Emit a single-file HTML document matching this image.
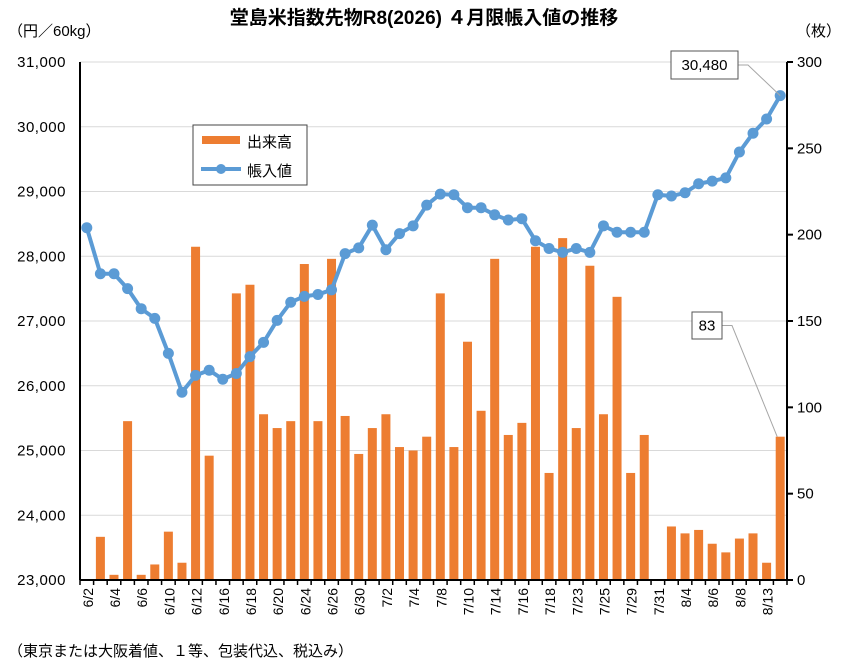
<!DOCTYPE html>
<html><head><meta charset="utf-8"><style>
body{margin:0;background:#fff;}
svg text{font-family:"Liberation Sans","Noto Sans CJK JP",sans-serif;}
</style></head><body>
<svg id="chart" width="848" height="665" viewBox="0 0 848 665" xmlns="http://www.w3.org/2000/svg">
<rect width="848" height="665" fill="#fff"/>
<text x="424" y="24" text-anchor="middle" font-size="19" font-weight="bold">堂島米指数先物R8(2026) ４月限帳入値の推移</text>
<text x="8" y="36" font-size="15">（円／60kg）</text>
<text x="796" y="36" font-size="15">（枚）</text>
<g id="grid"></g><g id="bars"></g><g id="axes"></g><g id="line"></g><g id="labels"></g>
<g>
<rect x="193" y="125" width="114" height="60" fill="#fff" stroke="#444" stroke-width="1"/>
<rect x="202" y="136" width="38" height="8" fill="#ed7d31"/>
<text x="247" y="147" font-size="15">出来高</text>
<line x1="201" y1="169" x2="241" y2="169" stroke="#5b9bd5" stroke-width="4"/>
<circle cx="221" cy="169" r="5" fill="#5b9bd5"/>
<text x="247" y="176" font-size="15">帳入値</text>
</g>
<text x="8" y="656" font-size="15">（東京または大阪着値、１等、包装代込、税込み）</text>
</svg>
<script>
const categories=["6/2","6/3","6/4","6/5","6/6","6/9","6/10","6/11","6/12","6/13","6/16","6/17","6/18","6/19","6/20","6/23","6/24","6/25","6/26","6/27","6/30","7/1","7/2","7/3","7/4","7/7","7/8","7/9","7/10","7/11","7/14","7/15","7/16","7/17","7/18","7/22","7/23","7/24","7/25","7/28","7/29","7/30","7/31","8/1","8/4","8/5","8/6","8/7","8/8","8/12","8/13","8/14"];
const volume=[0,25,3,92,3,9,28,10,193,72,0,166,171,96,88,92,183,92,186,95,73,88,96,77,75,83,166,77,138,98,186,84,91,193,62,198,88,182,96,164,62,84,0,31,27,29,21,16,24,27,10,83];
const price=[28440,27730,27730,27500,27190,27040,26500,25900,26160,26240,26100,26190,26450,26670,27010,27290,27380,27410,27480,28040,28130,28480,28100,28350,28470,28790,28960,28950,28750,28750,28640,28560,28580,28240,28120,28060,28120,28060,28470,28370,28370,28370,28950,28930,28980,29120,29160,29210,29610,29900,30120,30480];
const leftTicks=[23000,24000,25000,26000,27000,28000,29000,30000,31000];
const rightTicks=[0,50,100,150,200,250,300];
const NS="http://www.w3.org/2000/svg";
const X0=80,X1=787,Y0=580,Y1=62;
const n=categories.length,slot=(X1-X0)/n;
const xc=i=>X0+slot*(i+0.5);
const yL=v=>Y0-(v-23000)/8000*(Y0-Y1);
const yR=v=>Y0-v/300*(Y0-Y1);
function mk(tag,attrs,parent){const e=document.createElementNS(NS,tag);for(const k in attrs)e.setAttribute(k,attrs[k]);document.getElementById(parent).appendChild(e);return e;}
leftTicks.forEach(v=>{
  const g=mk('line',{x1:X0,x2:X1,y1:yL(v),y2:yL(v),stroke:'#d9d9d9','stroke-width':1},'grid');
  
  
  const t=mk('text',{x:66,y:yL(v)+5,'text-anchor':'end','font-size':15,'letter-spacing':'0.5'},'labels');
  t.textContent=v.toLocaleString('en-US');
  
  
});
rightTicks.forEach(v=>{
  const l=mk('line',{x1:X1,x2:X1+6,y1:yR(v),y2:yR(v),stroke:'#000','stroke-width':2},'axes');
  
  
  const t=mk('text',{x:797,y:yR(v)+5,'font-size':15},'labels');
  t.textContent=v;
  
  
});
volume.forEach((v,i)=>{
  if(v<=0)return;
  const r=mk('rect',{x:xc(i)-4.5,y:yR(v),width:9,height:Y0-yR(v),fill:'#ed7d31'},'bars');
  
  
});
let a;
a=mk('line',{x1:X0,x2:X0,y1:Y1,y2:Y0,stroke:'#000','stroke-width':2},'axes');

a=mk('line',{x1:X1,x2:X1,y1:Y1,y2:Y0,stroke:'#000','stroke-width':2},'axes');

a=mk('line',{x1:X0,x2:X1,y1:Y0,y2:Y0,stroke:'#000','stroke-width':2},'axes');

for(let i=0;i<=n;i++){
  const tk=mk('line',{x1:X0+slot*i,x2:X0+slot*i,y1:Y0,y2:Y0+5,stroke:'#000','stroke-width':1.5},'axes');
  
  
}
categories.forEach((c,i)=>{
  if(i%2)return;
  const x=xc(i)+6,y=588;
  const t=mk('text',{x:x,y:y,'font-size':14,'text-anchor':'end',transform:`rotate(-90 ${x} ${y})`},'labels');
  t.textContent=c;
  
  
});
const pl=mk('polyline',{points:price.map((v,i)=>xc(i)+','+yL(v)).join(' '),fill:'none',stroke:'#5b9bd5','stroke-width':4,'stroke-linejoin':'round'},'line');


price.forEach((v,i)=>{
  const c=mk('circle',{cx:xc(i),cy:yL(v),r:5.5,fill:'#5b9bd5'},'line');
  
  
});
const li=n-1;
function callout(bx,by,bw,bh,txt,px,py,name){
  const l=mk('polyline',{points:`${bx+bw},${by+bh/2} ${bx+bw+10},${by+bh/2} ${px},${py}`,fill:'none',stroke:'#a6a6a6','stroke-width':1},'labels');
  
  
  const r=mk('rect',{x:bx,y:by,width:bw,height:bh,fill:'#fff',stroke:'#555','stroke-width':1},'labels');
  
  
  const t=mk('text',{x:bx+bw/2,y:by+bh/2+5,'text-anchor':'middle','font-size':15},'labels');
  t.textContent=txt;
  
  
}
callout(671,51,67,28,price[li].toLocaleString('en-US'),xc(li),yL(price[li]),'last-price-label');
callout(692,312,30,27,String(volume[li]),xc(li)-3,yR(volume[li]),'last-volume-label');
</script>
</body></html>
